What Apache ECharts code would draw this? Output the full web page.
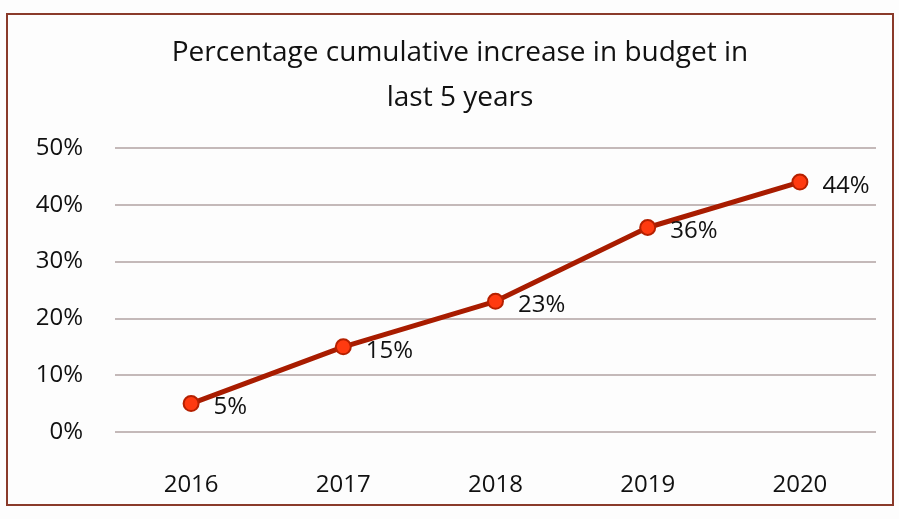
<!DOCTYPE html>
<html>
<head>
<meta charset="utf-8">
<script src="https://cdn.jsdelivr.net/npm/echarts@6/dist/echarts.min.js"></script>
<style>
  html, body { margin: 0; padding: 0; background: #fff; }
  #chart { width: 899px; height: 519px; }
</style>
</head>
<body>
<div id="chart"></div>
<script>
const years = ['2016', '2017', '2018', '2019', '2020']
const increase = [5, 15, 23, 36, 44]
const yTicks = [0, 10, 20, 30, 40, 50]

const chart = echarts.init(document.getElementById('chart'))
chart.setOption({
  backgroundColor: '#fdfdfd',
  title: {
    text: 'Percentage cumulative increase in budget in\nlast 5 years',
    left: 455, top: 26, textAlign: 'center',
    textStyle: { fontFamily: 'Open Sans', fontSize: 28, fontWeight: 'normal', color: '#111', lineHeight: 45 },
  },
  graphic: [{
    type: 'rect',
    shape: { x: 7, y: 14, width: 886, height: 491 },
    style: { fill: 'none', stroke: '#8a3a2a', lineWidth: 2 },
  }],
  grid: { left: 115, right: 23, top: 148, bottom: 87 },
  xAxis: {
    type: 'category', data: years,
    axisLine: { show: false }, axisTick: { show: false },
    axisLabel: { margin: 41, fontFamily: 'Open Sans', fontSize: 24, color: '#111' },
  },
  yAxis: {
    type: 'value', min: yTicks[0], max: yTicks[yTicks.length - 1], interval: 10,
    axisLine: { show: false }, axisTick: { show: false },
    axisLabel: { margin: 32, fontFamily: 'Open Sans', fontSize: 24, color: '#111', formatter: '{value}%' },
    splitLine: { lineStyle: { color: '#b0a2a2', width: 1.5 } },
  },
  series: [{
    type: 'line', data: increase,
    symbol: 'circle', symbolSize: 15,
    lineStyle: { color: '#a81c00', width: 5 },
    itemStyle: { color: '#ff3a10', borderColor: '#b52000', borderWidth: 2 },
    label: {
      show: true, position: 'right', distance: 14, offset: [0, 4],
      fontFamily: 'Open Sans', fontSize: 24, color: '#111', formatter: '{c}%',
    },
  }],
})
</script>
</body>
</html>
